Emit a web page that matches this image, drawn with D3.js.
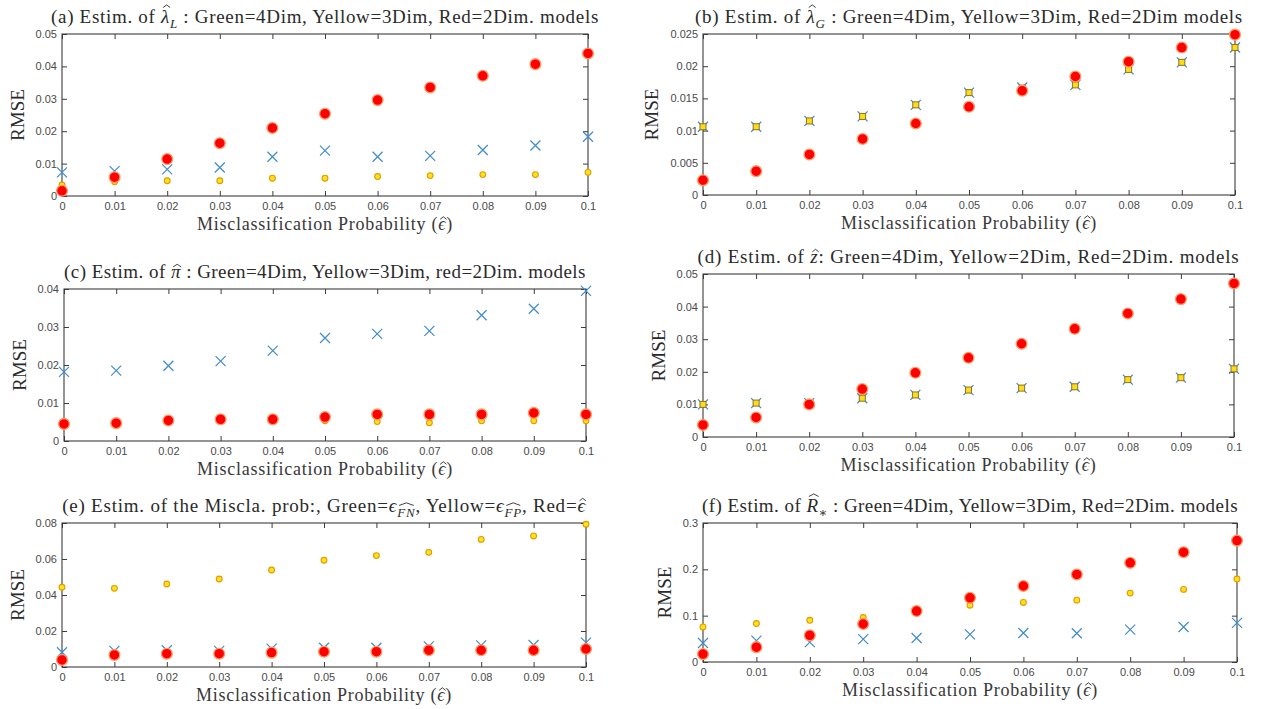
<!DOCTYPE html>
<html>
<head>
<meta charset="utf-8">
<script src="https://cdn.jsdelivr.net/npm/d3@7"></script>
<style>
  body { margin: 0; background: #fff; }
  svg { display: block; }
</style>
</head>
<body>
<svg id="fig" width="1262" height="709"></svg>
<script>
// Misclassification probability grid shared by every panel
const eps = [0, 0.01, 0.02, 0.03, 0.04, 0.05, 0.06, 0.07, 0.08, 0.09, 0.1];
const xTickLabels = ["0", "0.01", "0.02", "0.03", "0.04", "0.05", "0.06", "0.07", "0.08", "0.09", "0.1"];

// (a) lambda_L
const aGreen  = [0.0073, 0.0077, 0.0082, 0.0088, 0.0121, 0.0140, 0.0121, 0.0124, 0.0142, 0.0156, 0.0183];
const aYellow = [0.0034, 0.0044, 0.0047, 0.0047, 0.0055, 0.0055, 0.0060, 0.0063, 0.0066, 0.0066, 0.0073];
const aRed    = [0.0016, 0.0058, 0.0114, 0.0163, 0.0210, 0.0254, 0.0296, 0.0335, 0.0371, 0.0407, 0.0440];
const aYTicks = [0, 0.01, 0.02, 0.03, 0.04, 0.05];

// (b) lambda_G
const bGreen  = [0.0106, 0.0106, 0.0115, 0.0122, 0.0140, 0.0159, 0.0167, 0.0171, 0.0195, 0.0206, 0.0229];
const bYellow = [0.0106, 0.0106, 0.0115, 0.0122, 0.0140, 0.0159, 0.0166, 0.0171, 0.0195, 0.0206, 0.0229];
const bRed    = [0.0023, 0.0037, 0.0063, 0.0087, 0.0111, 0.0137, 0.0162, 0.0184, 0.0207, 0.0229, 0.0249];
const bYTicks = [0, 0.005, 0.01, 0.015, 0.02, 0.025];

// (c) pi
const cGreen  = [0.0182, 0.0185, 0.0198, 0.0210, 0.0238, 0.0271, 0.0282, 0.0290, 0.0331, 0.0348, 0.0395];
const cYellow = [0.0045, 0.0047, 0.0053, 0.0055, 0.0055, 0.0053, 0.0051, 0.0048, 0.0053, 0.0053, 0.0053];
const cRed    = [0.0045, 0.0047, 0.0054, 0.0057, 0.0057, 0.0063, 0.0070, 0.0070, 0.0070, 0.0074, 0.0070];
const cYTicks = [0, 0.01, 0.02, 0.03, 0.04];

// (d) z
const dGreen  = [0.0100, 0.0104, 0.0104, 0.0119, 0.0129, 0.0144, 0.0150, 0.0154, 0.0176, 0.0182, 0.0209];
const dYellow = [0.0100, 0.0104, 0.0104, 0.0119, 0.0129, 0.0144, 0.0150, 0.0154, 0.0176, 0.0182, 0.0209];
const dRed    = [0.0037, 0.0060, 0.0100, 0.0147, 0.0197, 0.0243, 0.0286, 0.0332, 0.0379, 0.0423, 0.0471];
const dYTicks = [0, 0.01, 0.02, 0.03, 0.04, 0.05];

// (e) misclassification probabilities: FN, FP, overall
const eGreen  = [0.0082, 0.0090, 0.0093, 0.0090, 0.0102, 0.0107, 0.0107, 0.0115, 0.0120, 0.0122, 0.0135];
const eYellow = [0.0443, 0.0437, 0.0461, 0.0489, 0.0539, 0.0593, 0.0619, 0.0637, 0.0709, 0.0728, 0.0793];
const eRed    = [0.0039, 0.0067, 0.0074, 0.0074, 0.0080, 0.0085, 0.0085, 0.0093, 0.0093, 0.0093, 0.0100];
const eYTicks = [0, 0.02, 0.04, 0.06, 0.08];

// (f) R_*
const fGreen  = [0.041, 0.046, 0.043, 0.0495, 0.0517, 0.0597, 0.0625, 0.062, 0.070, 0.0755, 0.0843];
const fYellow = [0.0756, 0.083, 0.090, 0.096, 0.110, 0.1226, 0.1285, 0.1335, 0.1487, 0.1567, 0.179];
const fRed    = [0.017, 0.032, 0.0575, 0.082, 0.110, 0.1385, 0.164, 0.189, 0.214, 0.237, 0.262];
const fYTicks = [0, 0.1, 0.2, 0.3];

// Panel titles as runs of text. it: italic symbol, sub: subscript,
// hat: circumflex drawn over the run ("cap" = tall glyph, "x" = short glyph)
const titles = {
  a: [{ t: "(a) Estim. of " }, { t: "λ", it: 1, hat: "cap" }, { t: "L", sub: 1, it: 1 }, { t: " : Green=4Dim, Yellow=3Dim, Red=2Dim. models" }],
  b: [{ t: "(b) Estim. of " }, { t: "λ", it: 1, hat: "cap" }, { t: "G", sub: 1, it: 1 }, { t: " : Green=4Dim, Yellow=3Dim, Red=2Dim models" }],
  c: [{ t: "(c) Estim. of " }, { t: "π", it: 1, hat: "x" }, { t: " : Green=4Dim, Yellow=3Dim, red=2Dim. models" }],
  d: [{ t: "(d) Estim. of " }, { t: "z", it: 1, hat: "x" }, { t: ": Green=4Dim, Yellow=2Dim, Red=2Dim. models" }],
  e: [{ t: "(e) Estim. of the Miscla. prob:, Green=" }, { t: "ϵ", it: 1 }, { t: "FN", sub: 1, it: 1, hat: "cap" },
      { t: ", Yellow=" }, { t: "ϵ", it: 1 }, { t: "FP", sub: 1, it: 1, hat: "cap" }, { t: ", Red=" }, { t: "ϵ", it: 1, hat: "x" }],
  f: [{ t: "(f) Estim. of " }, { t: "R", it: 1, hat: "cap" }, { t: "∗", sub: 1 }, { t: " : Green=4Dim, Yellow=3Dim, Red=2Dim. models" }]
};
const xLabelRuns = [{ t: "Misclassification Probability (" }, { t: "ϵ", it: 1, hat: "x" }, { t: ")" }];
const yLabelText = "RMSE";

// Frame of each axes box on the page
const panels = [
  { key: "a", box: [62, 588, 34, 196],  ticks: aYTicks, green: aGreen, yellow: aYellow, red: aRed, square: false, titleW: 548 },
  { key: "b", box: [703, 1235, 34, 195], ticks: bYTicks, green: bGreen, yellow: bYellow, red: bRed, square: true,  titleW: 548 },
  { key: "c", box: [64, 586, 289, 441], ticks: cYTicks, green: cGreen, yellow: cYellow, red: cRed, square: false, titleW: 522 },
  { key: "d", box: [703, 1234, 274, 437], ticks: dYTicks, green: dGreen, yellow: dYellow, red: dRed, square: true,  titleW: 542 },
  { key: "e", box: [62, 586, 523, 667], ticks: eYTicks, green: eGreen, yellow: eYellow, red: eRed, square: false, titleW: 525 },
  { key: "f", box: [703, 1237, 523, 662], ticks: fYTicks, green: fGreen, yellow: fYellow, red: fRed, square: false, titleW: 536 }
];

const svg = d3.select("#fig");
const serif = "'Liberation Serif', 'DejaVu Serif', serif";
const sans = "'Liberation Sans', Arial, sans-serif";
const axisColor = "#3c3c3c";
const tickColor = "#4a4a4a";
const textColor = "#2a2a2a";

// Write runs into a text element, returning where each hatted run sits
function writeRuns(text, runs, size) {
  const subSize = Math.round(size * 0.68);
  const drop = size * 0.25;
  let shifted = false, idx = 0;
  const hats = [];
  runs.forEach(run => {
    const ts = text.append("tspan").text(run.t);
    if (run.sub) {
      ts.attr("font-size", subSize);
      if (!shifted) { ts.attr("dy", drop); shifted = true; }
    } else if (shifted) {
      ts.attr("dy", -drop); shifted = false;
    }
    if (run.it) ts.attr("font-style", "italic");
    if (run.hat) hats.push({ from: idx, to: idx + run.t.length - 1, level: run.hat, sub: !!run.sub });
    idx += run.t.length;
  });
  return { hats, subSize, drop };
}

// Stretch a text element to the given width by spacing its glyphs
function fitWidth(sel, target) {
  const node = sel.node();
  const w = node.getBBox().width;
  const n = node.textContent.length;
  if (n > 1) {
    sel.attr("letter-spacing", ((target - w) / n).toFixed(3));
  }
}

// Draw the circumflex accents above the marked runs
function drawHats(g, text, info, baseY, size) {
  const node = text.node();
  const ls = +text.attr("letter-spacing") || 0;
  info.hats.forEach(h => {
    const e0 = node.getExtentOfChar(h.from);
    const e1 = node.getExtentOfChar(h.to);
    const x0 = e0.x, x1 = e1.x + e1.width - ls;
    const fs = h.sub ? info.subSize : size;
    const base = baseY + (h.sub ? info.drop : 0);
    const top = base - (h.level === "cap" ? 0.70 : 0.47) * fs - 2.2;
    const cx = (x0 + x1) / 2 + (h.sub ? 0.5 : 1.5);
    const hw = Math.max(3.2, (x1 - x0) * 0.42);
    g.append("path")
      .attr("d", `M${cx - hw},${top}L${cx},${top - 2.6}L${cx + hw},${top}`)
      .attr("fill", "none").attr("stroke", textColor).attr("stroke-width", 0.9);
  });
}

panels.forEach(p => {
  const [l, r, t, b] = p.box;
  const x = d3.scaleLinear().domain([0, 0.1]).range([l, r]);
  const y = d3.scaleLinear().domain([0, p.ticks[p.ticks.length - 1]]).range([b, t]);
  const g = svg.append("g").attr("class", "panel-" + p.key);

  g.append("rect").attr("x", l).attr("y", t).attr("width", r - l).attr("height", b - t)
    .attr("fill", "#fff");

  const style = ax => {
    ax.select(".domain").remove();
    ax.selectAll(".tick line").attr("stroke", axisColor).attr("stroke-width", 1);
    ax.selectAll(".tick text").attr("fill", tickColor).attr("font-family", sans).attr("font-size", 11);
  };

  const yAx = g.append("g").attr("transform", `translate(${l},0)`)
    .call(d3.axisLeft(y).tickValues(p.ticks).tickFormat(v => String(v)).tickSizeInner(-5).tickSizeOuter(0).tickPadding(5));
  style(yAx);
  g.append("g").attr("transform", `translate(${r},0)`)
    .call(d3.axisRight(y).tickValues(p.ticks).tickFormat("").tickSizeInner(-5).tickSizeOuter(0))
    .call(style);
  g.append("g").attr("transform", `translate(0,${b})`)
    .call(d3.axisBottom(x).tickValues(eps).tickFormat((d, i) => xTickLabels[i]).tickSizeInner(-5).tickSizeOuter(0).tickPadding(6))
    .call(style);
  g.append("g").attr("transform", `translate(0,${t})`)
    .call(d3.axisTop(x).tickValues(eps).tickFormat("").tickSizeInner(-5).tickSizeOuter(0))
    .call(style);

  g.append("rect").attr("x", l).attr("y", t).attr("width", r - l).attr("height", b - t)
    .attr("fill", "none").attr("stroke", axisColor).attr("stroke-width", 1.1);

  // markers: green crosses, yellow points, red discs on top
  const pts = arr => arr.map((v, i) => ({ x: eps[i], v }));
  const marks = g.append("g");
  marks.selectAll("path.green").data(pts(p.green)).join("path")
    .attr("class", "green")
    .attr("transform", d => `translate(${x(d.x)},${y(d.v)})`)
    .attr("d", "M-5,-5L5,5M-5,5L5,-5")
    .attr("stroke", "#3f8bcb").attr("stroke-width", 1.2).attr("fill", "none");
  if (p.square) {
    marks.selectAll("rect.yellow").data(pts(p.yellow)).join("rect")
      .attr("class", "yellow")
      .attr("x", d => x(d.x) - 3).attr("y", d => y(d.v) - 3)
      .attr("width", 6).attr("height", 6)
      .attr("fill", "#ffdc1a").attr("stroke", "#8a7420").attr("stroke-width", 1);
  } else {
    marks.selectAll("circle.yellow").data(pts(p.yellow)).join("circle")
      .attr("class", "yellow")
      .attr("cx", d => x(d.x)).attr("cy", d => y(d.v)).attr("r", 2.9)
      .attr("fill", "#ffe31a").attr("stroke", "#e39a00").attr("stroke-width", 1.1);
  }
  marks.selectAll("circle.red").data(pts(p.red)).join("circle")
    .attr("class", "red")
    .attr("cx", d => x(d.x)).attr("cy", d => y(d.v)).attr("r", 5.4)
    .attr("fill", "#ff0000").attr("stroke", "#ff9a66").attr("stroke-width", 1.3);

  // title
  const cx = (l + r) / 2;
  const tSize = 19, tBase = t - 11;
  const title = g.append("text")
    .attr("x", cx).attr("y", tBase)
    .attr("text-anchor", "middle")
    .attr("font-family", serif).attr("font-size", tSize).attr("fill", textColor);
  const tInfo = writeRuns(title, titles[p.key], tSize);
  fitWidth(title, p.titleW);
  drawHats(g, title, tInfo, tBase, tSize);

  // x label
  const xSize = 18, xBase = b + 34;
  const xl = g.append("text")
    .attr("x", cx).attr("y", xBase)
    .attr("text-anchor", "middle")
    .attr("font-family", serif).attr("font-size", xSize).attr("fill", "#383838");
  const xInfo = writeRuns(xl, xLabelRuns, xSize);
  fitWidth(xl, 256);
  drawHats(g, xl, xInfo, xBase, xSize);

  // y label placed just left of the tick labels
  const yb = yAx.node().getBBox();
  const ylx = l + yb.x - 12;
  g.append("text")
    .attr("transform", `translate(${ylx},${(t + b) / 2}) rotate(-90)`)
    .attr("text-anchor", "middle")
    .attr("font-family", serif).attr("font-size", 19).attr("fill", textColor)
    .text(yLabelText);
});
</script>
</body>
</html>
